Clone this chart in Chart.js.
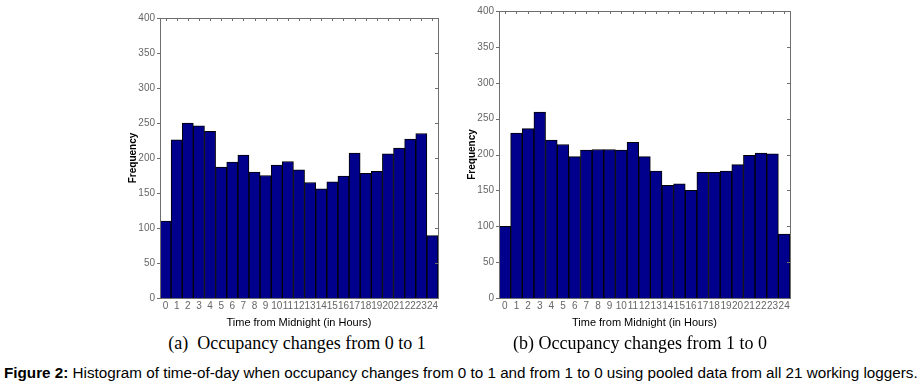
<!DOCTYPE html>
<html>
<head>
<meta charset="utf-8">
<script src="https://cdn.jsdelivr.net/npm/chart.js@4.4.0/dist/chart.umd.min.js"></script>
<style>
  body { margin: 0; background: #fff; }
  #wrap { position: relative; width: 922px; height: 388px; overflow: hidden; }
  canvas { position: absolute; top: 0; }
  .sub { position: absolute; top: 333px; font-family: 'Liberation Serif', serif; font-size: 18px; color: #000; white-space: nowrap; transform: translateX(-50%); }
  #caption { position: absolute; left: 4px; top: 365px; font-family: 'Liberation Sans', Arial, sans-serif; font-size: 14px; color: #000; white-space: nowrap; transform-origin: 0 0; }
</style>
</head>
<body>
<div id="wrap">
  <canvas id="chart-a" width="460" height="330" style="left:0px"></canvas>
  <canvas id="chart-b" width="360" height="330" style="left:440px"></canvas>
  <div class="sub" style="left:297px">(a)&nbsp; Occupancy changes from 0 to 1</div>
  <div class="sub" style="left:640px">(b) Occupancy changes from 1 to 0</div>
  <div id="caption"><b>Figure 2:</b> Histogram of time-of-day when occupancy changes from 0 to 1 and from 1 to 0 using pooled data from all 21 working loggers.</div>
</div>
<script>
const hours = []
for (let h = 0; h <= 24; h++) {
  hours.push(String(h))
}

// 0 -> 1 transitions
const countsOn = [110, 226, 250, 246, 238, 187, 194, 204, 180, 175, 190, 195, 183,
  165, 156, 166, 174, 207, 178, 181, 206, 214, 227, 235, 89]

// 1 -> 0 transitions
const countsOff = [100, 230, 236, 259, 220, 214, 197, 206, 207, 207, 206, 217, 197,
  177, 157, 159, 150, 175, 175, 177, 186, 199, 202, 201, 89]

const barColor = '#00008c'
const axisColor = '#6e6e6e'

// stretch the caption line to the page width
const caption = document.getElementById('caption')
caption.style.transform = 'scaleX(' + (914 / caption.scrollWidth) + ')'

// box around the plot with small tick marks, like a matlab axes
const boxPlugin = {
  id: 'box',
  afterDatasetsDraw (chart) {
    const { ctx, chartArea: a, scales } = chart
    ctx.save()
    ctx.strokeStyle = axisColor
    ctx.lineWidth = 1
    ctx.strokeRect(Math.round(a.left) + 0.5, Math.round(a.top) + 0.5,
      Math.round(a.right - a.left), Math.round(a.bottom - a.top))
    ctx.beginPath()
    scales.y.ticks.forEach(function (t) {
      const y = Math.round(scales.y.getPixelForValue(t.value)) + 0.5
      ctx.moveTo(a.left - 3, y)
      ctx.lineTo(a.left, y)
      ctx.moveTo(a.right - 3, y)
      ctx.lineTo(a.right, y)
    })
    scales.x.ticks.forEach(function (t, i) {
      const x = Math.round(scales.x.getPixelForTick(i)) + 0.5
      ctx.moveTo(x, a.top)
      ctx.lineTo(x, a.top + 3)
    })
    ctx.stroke()
    ctx.restore()
  },
}

function makeHistogram (canvasId, counts, pad, xHeight) {
  const ctx = document.getElementById(canvasId).getContext('2d')
  return new Chart(ctx, {
    type: 'bar',
    data: {
      labels: hours,
      datasets: [{
        data: counts,
        backgroundColor: barColor,
        borderColor: '#000000',
        borderWidth: 1,
        categoryPercentage: 1,
        barPercentage: 1,
      }],
    },
    options: {
      responsive: false,
      animation: false,
      layout: { padding: pad },
      plugins: {
        legend: { display: false },
        tooltip: { enabled: false },
      },
      scales: {
        x: {
          grid: { display: false, drawTicks: false, tickLength: 0 },
          border: { display: false },
          ticks: {
            color: '#666',
            font: { family: 'Liberation Sans', size: 10 },
            maxRotation: 0,
            autoSkip: false,
            padding: 2,
          },
          title: {
            display: true,
            text: 'Time from Midnight (in Hours)',
            color: '#000',
            font: { family: 'Liberation Sans', size: 11 },
            padding: { top: 1, bottom: 0 },
          },
          afterFit: function (scale) { scale.height = xHeight },
        },
        y: {
          min: 0,
          max: 400,
          grid: { display: false, drawTicks: false, tickLength: 0 },
          border: { display: false },
          ticks: {
            stepSize: 50,
            color: '#666',
            font: { family: 'Liberation Sans', size: 10 },
            padding: 5,
          },
          title: {
            display: true,
            text: 'Frequency',
            color: '#000',
            font: { family: 'Liberation Sans', size: 10, weight: 'bold' },
            padding: { top: 5, bottom: 0 },
          },
          afterFit: function (scale) { scale.width = 38 },
        },
      },
    },
    plugins: [boxPlugin],
  })
}

makeHistogram('chart-a', countsOn, { left: 122, right: 22, top: 18, bottom: 0 }, 32)
makeHistogram('chart-b', countsOff, { left: 21, right: 10, top: 7, bottom: 0 }, 32)
</script>
</body>
</html>
